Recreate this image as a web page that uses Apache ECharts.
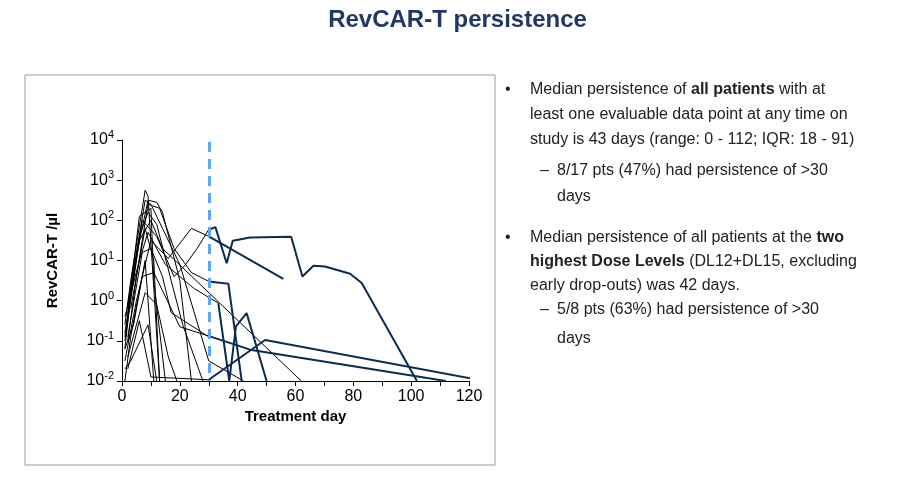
<!DOCTYPE html><html><head><meta charset="utf-8"><script src="https://cdn.jsdelivr.net/npm/echarts@6/dist/echarts.min.js"></script></head><body style="margin:0"><div id="c" style="width:915px;height:489px"></div><script>
// values: [treatment day, log10(RevCAR-T per µl)]
const blackSeries = [
 [[1,-0.6],[3,0.5],[8,2.75],[9,2.6],[13,-2]],
 [[1,-1.2],[4,0.8],[9,2.5],[12,2.45],[14,2.2],[20,0.5],[24,-2]],
 [[2,-1],[5,0.6],[9,2.4],[13,2.3],[18,1.3],[24,0.7],[30,0.48]],
 [[1,-0.4],[6,1.0],[9,1.7],[15,0.9],[25,0.3],[33.3,-0.06]],
 [[1,-1.5],[5,0],[10,1.5],[16,1.05],[24,1.8],[30,1.6]],
 [[2,-0.9],[7,1.2],[10,1.3],[14,0.6],[17,-0.3],[30,-0.9]],
 [[1,-1.2],[4,-0.6],[7,0.6],[11,0.7],[20,-0.65],[30.4,-0.89]],
 [[2,-1.7],[6,-0.5],[10,-1.9],[30,-1.97]],
 [[1,-0.8],[6,1.5],[10,2.0],[14,1.3],[62,-2]],
 [[1,-1],[7,2.0],[12,1.6],[18,0.6],[22,0.9],[26,1.3],[29.9,1.76]],
 [[3,-0.2],[8,1.8],[11,1.0],[13,-2]],
 [[1,-1.7],[3,-1.5],[9,-0.6],[12,-2]],
 [[2,-0.3],[6,2.1],[10,2.3],[11,0.5],[15,-2]],
 [[1,-2],[3,-0.9],[8,1.0],[10,-1.0],[11,-2]],
 [[1,-0.9],[5,1.2],[8,2.5],[10,2.4],[14,1.8],[20,0.9],[25,-0.3],[30,-1.5],[42,-2]],
 [[2,-0.1],[6,1.6],[9,2.2],[12,1.9],[17,0.5],[21,-0.6],[28,-2]],
 [[2,-1.4],[8,0.2],[12,-0.1],[16,-1.4],[19,-2]]
];
const blueSeries = [
 [[29.9,1.76],[32.3,1.83],[36.2,0.93],[38.3,1.49],[44.3,1.57],[58.5,1.59],[62.4,0.6],[66.2,0.87],[70.2,0.85],[78.9,0.67],[82.9,0.44],[102,-2]],
 [[30,1.6],[55.8,0.54]],
 [[30,0.48],[36.8,0.42],[41.4,-2]],
 [[33.3,-0.06],[37.1,-2],[39.4,-0.64],[43.1,-0.31],[50,-2]],
 [[30,-1.97],[49.5,-0.98],[120.4,-1.93]],
 [[30.4,-0.89],[44.3,-1.22],[112,-2]]
];
const yTicks = [-2,-1,0,1,2,3,4];
const xTicks = [0,20,40,60,80,100,120];
const doseDay = 30;

const series = [];
blackSeries.forEach(d=>series.push({type:'line',data:d,symbol:'none',lineStyle:{color:'#000',width:1},silent:true}));
blueSeries.forEach(d=>series.push({type:'line',data:d,symbol:'none',lineStyle:{color:'#0d2b4e',width:2},silent:true}));
series.push({type:'line',data:[],markLine:{silent:true,symbol:'none',label:{show:false},
  lineStyle:{color:'#5aa8f5',width:3,type:[10,7]},data:[[{coord:[doseDay,3.95]},{coord:[doseDay,-2]}]]}});

const F='"Liberation Sans", Arial, sans-serif';
const txt=(x,y,rich)=>({type:'text',left:x,top:y,style:{text:rich,font:'16px '+F,fill:'#222',rich:{n:{fontSize:16,fontFamily:F,fill:'#222'},b:{fontSize:16,fontFamily:F,fontWeight:'bold',fill:'#222'}}}});
const lines=[
 [505,82,'•'],[530,82,'{n|Median persistence of }{b|all patients}{n| with at}'],
 [530,107,'{n|least one evaluable data point at any time on}'],
 [530,132,'{n|study is 43 days (range: 0 - 112; IQR: 18 - 91)}'],
 [540,163,'{n|–}'],[557,163,'{n|8/17 pts (47%) had persistence of >30}'],
 [557,189,'{n|days}'],
 [505,230,'•'],[530,230,'{n|Median persistence of all patients at the }{b|two}'],
 [530,254,'{b|highest Dose Levels}{n| (DL12+DL15, excluding}'],
 [530,278,'{n|early drop-outs) was 42 days.}'],
 [540,302,'{n|–}'],[557,302,'{n|5/8 pts (63%) had persistence of >30}'],
 [557,331,'{n|days}']
];
const graphic=[{type:'rect',shape:{x:25,y:75,width:470,height:390},style:{fill:'none',stroke:'#999',lineWidth:1}},
 {type:'text',left:'center',top:8,style:{text:'RevCAR-T persistence',font:'bold 24px '+F,fill:'#1f3864'}}];
lines.forEach(l=>graphic.push(txt(l[0],l[1],l[2])));

const ch=echarts.init(document.getElementById('c'));
ch.setOption({animation:false,backgroundColor:'#fff',graphic,
 grid:{left:122,right:446,top:140,bottom:108},
 xAxis:{type:'value',min:0,max:120,interval:10,name:'Treatment day',nameLocation:'middle',nameGap:28,
   nameTextStyle:{fontSize:15,fontWeight:'bold',color:'#000',fontFamily:F},
   axisLine:{onZero:false,lineStyle:{color:'#000'}},axisTick:{length:5,lineStyle:{color:'#000'}},splitLine:{show:false},
   axisLabel:{fontSize:16,color:'#000',fontFamily:F,formatter:v=>xTicks.includes(v)?String(v):''}},
 yAxis:{type:'value',min:-2,max:4,interval:1,name:'RevCAR-T /µl',nameLocation:'middle',nameGap:62,
   nameTextStyle:{fontSize:15,fontWeight:'bold',color:'#000',fontFamily:F},
   axisLine:{show:true,onZero:false,lineStyle:{color:'#000'}},axisTick:{show:true,length:5,lineStyle:{color:'#000'}},splitLine:{show:false},
   axisLabel:{color:'#000',formatter:v=>yTicks.includes(v)?'{b|10}{s|'+v+'}':'',
     rich:{b:{fontSize:16,fontFamily:F,color:'#000'},s:{fontSize:11,fontFamily:F,color:'#000',verticalAlign:'top',padding:[0,0,10,0]}}}},
 series});
</script></body></html>
